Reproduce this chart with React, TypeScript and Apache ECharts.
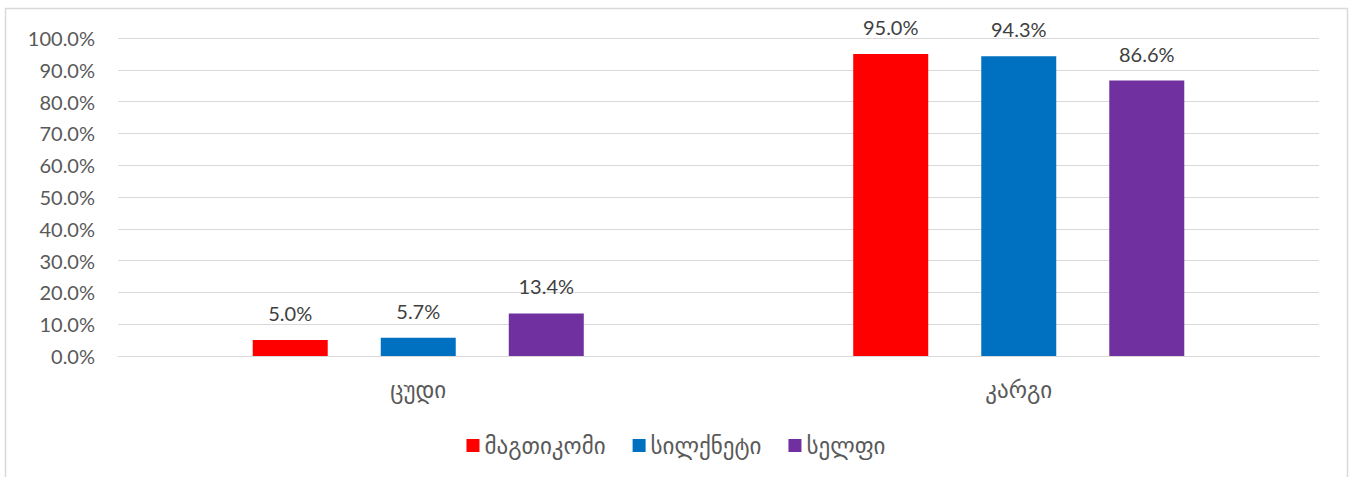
import React, { useEffect, useRef } from "react";
import * as echarts from "echarts";

const categories = ["ცუდი", "კარგი"];
const seriesNames = ["მაგთიკომი", "სილქნეტი", "სელფი"];
const magticom = [5.0, 95.0];
const silknet = [5.7, 94.3];
const selfi = [13.4, 86.6];
const colors = ["#FF0000", "#0070C0", "#7030A0"];

const FONT = "Lato, 'DejaVu Sans', sans-serif";
const GEO_FONT = "'DejaVu Sans', sans-serif";

export default function App() {
  const ref = useRef<HTMLDivElement>(null);
  useEffect(() => {
    if (!ref.current) return;
    const chart = echarts.init(ref.current, undefined, { renderer: "svg" });
    const values = [magticom, silknet, selfi];
    chart.setOption({
      animation: false,
      backgroundColor: "#ffffff",
      textStyle: { fontFamily: FONT },
      graphic: [
        {
          type: "rect",
          shape: { x: 5.5, y: 8.5, width: 1342, height: 480 },
          style: { fill: "none", stroke: "#d9d9d9", lineWidth: 1.5 },
          silent: true,
        },
      ],
      grid: { left: 118, right: 33, top: 38, bottom: 121, containLabel: false },
      legend: {
        top: 429,
        left: "center",
        itemWidth: 13,
        itemHeight: 13,
        itemGap: 27,
        icon: "rect",
        textStyle: { fontSize: 23, color: "#595959", fontFamily: GEO_FONT },
        data: seriesNames,
      },
      xAxis: {
        type: "category",
        data: categories,
        axisLine: { lineStyle: { color: "#d9d9d9" } },
        axisTick: { show: false },
        axisLabel: { fontSize: 23, color: "#595959", margin: 22, fontFamily: GEO_FONT },
      },
      yAxis: {
        type: "value",
        min: 0,
        max: 100,
        interval: 10,
        axisLine: { show: false },
        axisTick: { show: false },
        splitLine: { lineStyle: { color: "#d9d9d9", width: 1 } },
        axisLabel: {
          fontSize: 20,
          color: "#595959",
          margin: 23,
          fontFamily: FONT,
          formatter: (v: number) => v.toFixed(1) + "%",
        },
      },
      series: seriesNames.map((name, i) => ({
        name,
        type: "bar",
        data: values[i],
        barWidth: 75,
        barGap: "70.7%",
        itemStyle: { color: colors[i] },
        label: {
          show: true,
          position: "top",
          distance: 17,
          fontSize: 20,
          color: "#404040",
          fontFamily: FONT,
          formatter: (p: any) => Number(p.value).toFixed(1) + "%",
        },
      })),
    });
    return () => chart.dispose();
  }, []);
  return (
    <div
      ref={ref}
      style={{ position: "fixed", left: 0, top: 0, width: 1352, height: 477 }}
    />
  );
}
